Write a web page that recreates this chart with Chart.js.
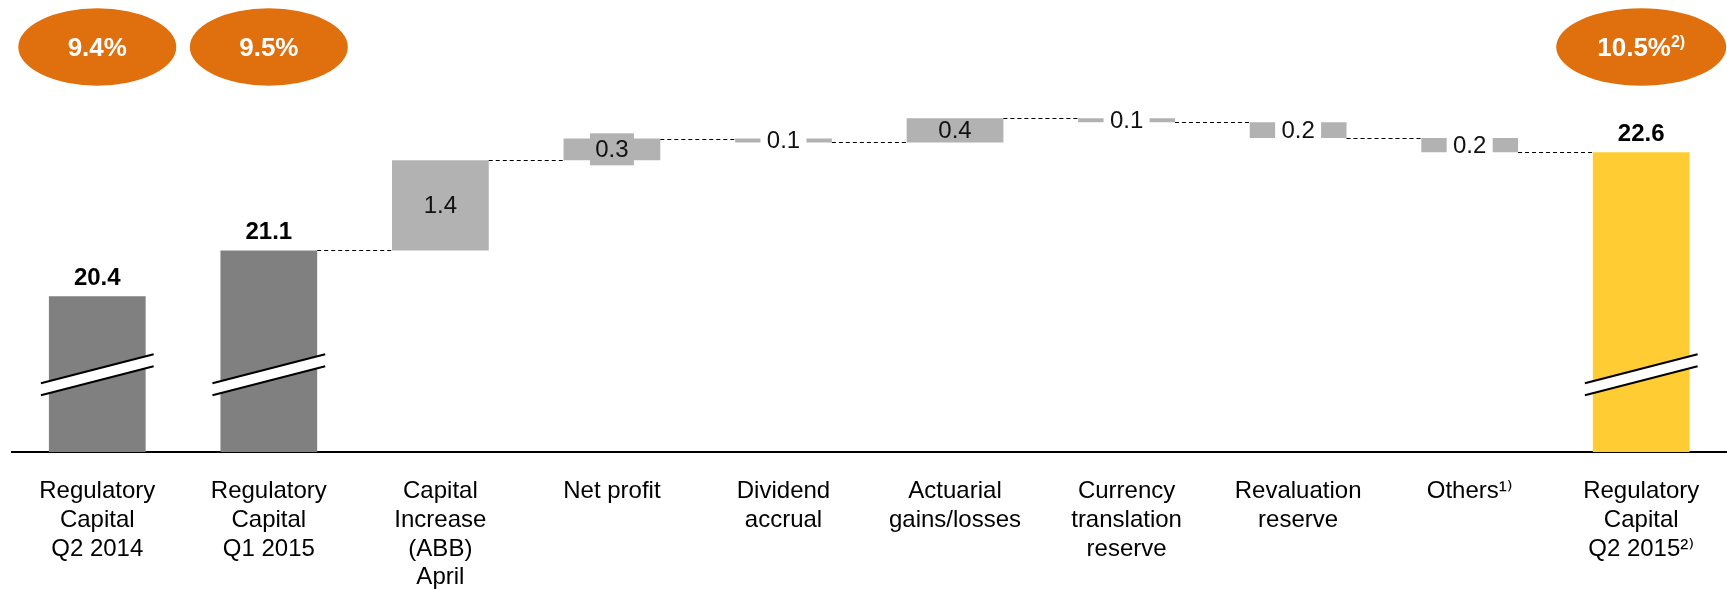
<!DOCTYPE html>
<html>
<head>
<meta charset="utf-8">
<script src="https://cdn.jsdelivr.net/npm/chart.js@4.4.1/dist/chart.umd.min.js"></script>
<style>
  body { margin: 0; background: #fff; }
  #wrap { width: 1727px; height: 589px; position: relative; }
</style>
</head>
<body>
<div id="wrap"><canvas id="capitalChart"></canvas></div>
<script>
const categories = [
  ['Regulatory', 'Capital', 'Q2 2014'],
  ['Regulatory', 'Capital', 'Q1 2015'],
  ['Capital', 'Increase', '(ABB)', 'April'],
  ['Net profit'],
  ['Dividend', 'accrual'],
  ['Actuarial', 'gains/losses'],
  ['Currency', 'translation', 'reserve'],
  ['Revaluation', 'reserve'],
  ['Others\u00B9\u207E'],
  ['Regulatory', 'Capital', 'Q2 2015\u00B2\u207E']
];
const startTotals = [20.4, 21.1];
const steps = [1.38, 0.33, -0.06, 0.37, -0.06, -0.24, -0.22];
const endTotal = 22.6;
const ratioBars = [0, 1, 9];
const ratioLabels = ['9.4%', '9.5%', '10.5%'];
const ratioNotes = ['', '', '2)'];

const axisMin = 18.02;
const axisMax = 24.82;

const FONT = "'Liberation Sans', Arial, 'DejaVu Sans', sans-serif";
const DARK = '#808080';
const LIGHT = '#b2b2b2';
const YELLOW = '#ffcc33';
const ORANGE = '#e0700e';

// floating ranges for the waterfall
const ranges = [[axisMin, startTotals[0]], [axisMin, startTotals[1]]];
const levels = [startTotals[0], startTotals[1]];
let level = startTotals[1];
steps.forEach(d => {
  ranges.push([level, level + d]);
  level += d;
  levels.push(level);
});
ranges.push([axisMin, endTotal]);
levels.push(endTotal);

const isTotal = i => i < 2 || i === categories.length - 1;
const colors = categories.map((c, i) => i === categories.length - 1 ? YELLOW : (isTotal(i) ? DARK : LIGHT));

const waterfallDecor = {
  id: 'waterfallDecor',
  afterDatasetsDraw(chart) {
    const ctx = chart.ctx;
    const y = chart.scales.y;
    const bars = chart.getDatasetMeta(0).data;
    const geo = bars.map(b => b.getProps(['x', 'width'], true));

    ctx.save();

    // dashed connectors
    ctx.strokeStyle = '#000';
    ctx.lineWidth = 1.2;
    ctx.setLineDash([4, 3]);
    for (let i = 1; i < bars.length - 1; i++) {
      const py = Math.round(y.getPixelForValue(levels[i])) + 0.5;
      ctx.beginPath();
      ctx.moveTo(geo[i].x + geo[i].width / 2, py);
      ctx.lineTo(geo[i + 1].x - geo[i + 1].width / 2, py);
      ctx.stroke();
    }
    ctx.setLineDash([]);

    // axis break marks on total bars
    const breakY = y.getPixelForValue(19.2);
    bars.forEach((b, i) => {
      if (!isTotal(i)) return;
      const x0 = geo[i].x - geo[i].width / 2 - 8;
      const x1 = geo[i].x + geo[i].width / 2 + 8;
      const rise = 29;
      const gap = 12;
      ctx.beginPath();
      ctx.moveTo(x0, breakY + rise / 2 - gap / 2);
      ctx.lineTo(x1, breakY - rise / 2 - gap / 2);
      ctx.lineTo(x1, breakY - rise / 2 + gap / 2);
      ctx.lineTo(x0, breakY + rise / 2 + gap / 2);
      ctx.closePath();
      ctx.fillStyle = '#fff';
      ctx.fill();
      ctx.strokeStyle = '#000';
      ctx.lineWidth = 2;
      ctx.beginPath();
      ctx.moveTo(x0, breakY + rise / 2 - gap / 2);
      ctx.lineTo(x1, breakY - rise / 2 - gap / 2);
      ctx.moveTo(x0, breakY + rise / 2 + gap / 2);
      ctx.lineTo(x1, breakY - rise / 2 + gap / 2);
      ctx.stroke();
    });

    // value labels
    ctx.textAlign = 'center';
    ctx.textBaseline = 'middle';
    bars.forEach((b, i) => {
      const r = ranges[i];
      if (isTotal(i)) {
        ctx.font = 'bold 24px ' + FONT;
        ctx.fillStyle = '#000';
        ctx.fillText(r[1].toFixed(1), geo[i].x, y.getPixelForValue(r[1]) - 18);
        return;
      }
      const top = y.getPixelForValue(Math.max(r[0], r[1]));
      const bot = y.getPixelForValue(Math.min(r[0], r[1]));
      const h = bot - top;
      const cy = (top + bot) / 2;
      // thin steps get a white gap for the label, mid ones a grey patch
      if (h < 18) {
        ctx.fillStyle = '#fff';
        ctx.fillRect(geo[i].x - 23, cy - 15, 46, 30);
      } else if (h < 23) {
        ctx.fillStyle = LIGHT;
        ctx.fillRect(geo[i].x - 22, cy - 16, 44, 32);
      }
      ctx.font = '24px ' + FONT;
      ctx.fillStyle = '#111';
      ctx.fillText(Math.abs(r[1] - r[0]).toFixed(1), geo[i].x, cy + 1);
    });

    // capital ratio ellipses
    ratioBars.forEach((bi, k) => {
      const cx = geo[bi].x;
      const cy = 47;
      const rx = ratioNotes[k] ? 85 : 79;
      ctx.beginPath();
      ctx.ellipse(cx, cy, rx, 38.7, 0, 0, Math.PI * 2);
      ctx.fillStyle = ORANGE;
      ctx.fill();

      ctx.fillStyle = '#fff';
      ctx.font = 'bold 26px ' + FONT;
      const w = ctx.measureText(ratioLabels[k]).width;
      ctx.font = 'bold 16px ' + FONT;
      const wn = ratioNotes[k] ? ctx.measureText(ratioNotes[k]).width : 0;
      const left = cx - (w + wn) / 2;
      ctx.textAlign = 'left';
      ctx.font = 'bold 26px ' + FONT;
      ctx.fillText(ratioLabels[k], left, cy + 2);
      if (ratioNotes[k]) {
        ctx.font = 'bold 16px ' + FONT;
        ctx.fillText(ratioNotes[k], left + w, cy - 4);
      }
      ctx.textAlign = 'center';
    });

    ctx.restore();
  }
};

new Chart(document.getElementById('capitalChart'), {
  type: 'bar',
  data: {
    labels: categories,
    datasets: [{
      data: ranges,
      backgroundColor: colors,
      borderWidth: 0,
      barPercentage: 0.564,
      categoryPercentage: 1
    }]
  },
  options: {
    responsive: true,
    maintainAspectRatio: false,
    animation: false,
    layout: {
      padding: { left: 11.5, right: -5.6, top: 7, bottom: 0 }
    },
    plugins: {
      legend: { display: false },
      tooltip: { enabled: false }
    },
    scales: {
      x: {
        grid: { display: false, drawTicks: false },
        border: { display: true, color: '#000', width: 2 },
        ticks: {
          color: '#000',
          font: { family: FONT, size: 24, lineHeight: 1.2 },
          padding: 25,
          autoSkip: false,
          maxRotation: 0
        },
        afterFit: (scale) => { scale.height = 137; }
      },
      y: {
        display: false,
        min: axisMin,
        max: axisMax
      }
    }
  },
  plugins: [waterfallDecor]
});
</script>
</body>
</html>
